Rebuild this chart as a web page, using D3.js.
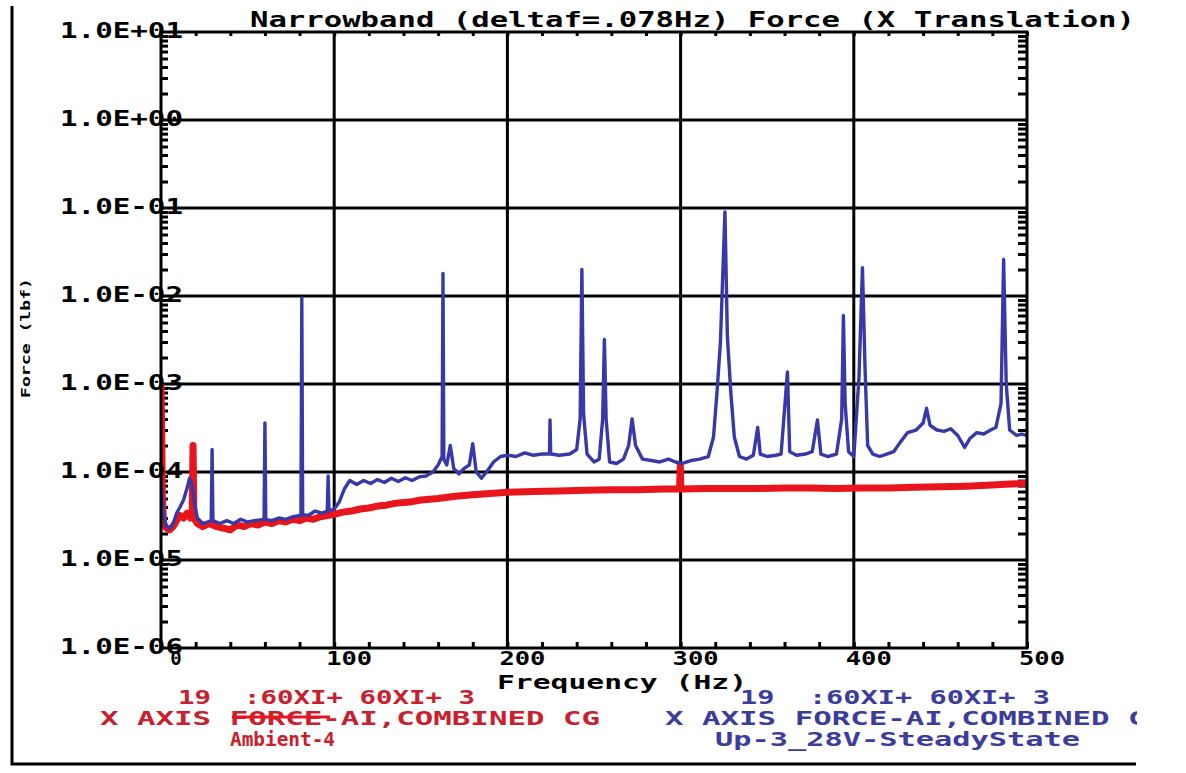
<!DOCTYPE html>
<html><head><meta charset="utf-8">
<script src="https://cdn.jsdelivr.net/npm/d3@7"></script>
<style>body{margin:0;background:#fff}svg{display:block}</style>
</head><body><svg id="c" width="1186" height="773"></svg>
<script>
const titleText = "Narrowband (deltaf=.078Hz) Force (X Translation)";
const yAxisTitle = "Force (lbf)";
const xAxisTitle = "Frequency (Hz)";
const yTickValues = [1e1, 1e0, 1e-1, 1e-2, 1e-3, 1e-4, 1e-5, 1e-6];
const yTickLabels = ["1.0E+01", "1.0E+00", "1.0E-01", "1.0E-02", "1.0E-03", "1.0E-04", "1.0E-05", "1.0E-06"];
const xTickValues = [0, 100, 200, 300, 400, 500];
const xTickLabels = ["0", "100", "200", "300", "400", "500"];

const redFreq = [0,0.4,0.8,1.5,3,5,7,9,11,13,15,17,18,18.5,19,21,24,28,32,36,40,44,48,52,56,60,64,68,72,76,80,84,88,92,96,100,105,110,115,120,125,130,135,140,145,150,160,170,180,190,200,215,230,245,260,275,290,299.4,299.8,300.2,315,330,345,360,375,390,405,420,435,450,465,480,490,500];
const redValues = [1.0e-3,3.0e-4,5e-5,2.6e-5,2.3e-5,2.2e-5,2.4e-5,2.8e-5,3.2e-5,3.0e-5,3.4e-5,3.0e-5,3.4e-5,2.0e-4,3.0e-5,2.6e-5,2.4e-5,2.6e-5,2.4e-5,2.3e-5,2.2e-5,2.5e-5,2.4e-5,2.6e-5,2.5e-5,2.7e-5,2.6e-5,2.8e-5,2.7e-5,2.9e-5,2.8e-5,3.0e-5,2.9e-5,3.1e-5,3.2e-5,3.3e-5,3.5e-5,3.6e-5,3.8e-5,3.9e-5,4.1e-5,4.2e-5,4.4e-5,4.5e-5,4.6e-5,4.8e-5,5.0e-5,5.3e-5,5.5e-5,5.7e-5,5.9e-5,6.0e-5,6.1e-5,6.2e-5,6.3e-5,6.3e-5,6.4e-5,6.4e-5,1.2e-4,6.4e-5,6.5e-5,6.5e-5,6.5e-5,6.6e-5,6.6e-5,6.5e-5,6.6e-5,6.6e-5,6.7e-5,6.8e-5,6.9e-5,7.1e-5,7.3e-5,7.4e-5];

const blueFreq = [0,0.6,1.5,3,5,7,9,11,13,15,16.5,18,19.5,21,24,27,29,29.5,30,34,38,42,46,50,54,59.5,60,60.5,64,68,72,76,80.8,81.3,81.8,85,89,93,96,96.5,97,100,103,106,109,113,117,121,125,129,133,137,141,145,149,153,157,160,162.3,162.8,163.3,165,167,169,172,175,178,180,182,185,188,192,196,200,205,210,215,220,224.3,224.6,225,230,236,240,242,243,244,246,250,253,255,256,257,259,263,267,270,272,274,278,283,288,293,297,301,306,311,316,319,321,323,325.6,327,329,331,334,338,342,344.5,346,350,355,358,361.7,363,367,372,376,379,381,385,390,393,394,395,397,400,403,405,406.5,408,411,415,419,423,427,431,436,440,442,444,448,452,456,460,464,467,471,475,479,482,485,486.5,488,490,494,497,500];
const blueValues = [9.0e-5,6.0e-5,3.2e-5,2.4e-5,2.3e-5,2.6e-5,3.4e-5,4.0e-5,4.8e-5,6.5e-5,8.5e-5,7.0e-5,4.2e-5,3.0e-5,2.6e-5,2.7e-5,2.8e-5,1.8e-4,2.8e-5,2.6e-5,2.8e-5,2.6e-5,2.9e-5,2.7e-5,2.8e-5,2.9e-5,3.6e-4,2.9e-5,2.8e-5,3.0e-5,2.9e-5,3.1e-5,3.2e-5,9.5e-3,3.3e-5,3.2e-5,3.6e-5,3.4e-5,3.6e-5,9.0e-5,3.6e-5,3.8e-5,4.6e-5,6.5e-5,8.0e-5,7.2e-5,8.0e-5,7.4e-5,8.2e-5,7.6e-5,8.5e-5,7.8e-5,8.6e-5,8.0e-5,8.8e-5,9.0e-5,1.0e-4,1.2e-4,1.5e-4,1.8e-2,1.4e-4,1.2e-4,2.0e-4,1.1e-4,9.5e-5,1.1e-4,1.2e-4,2.1e-4,1.0e-4,8.5e-5,1.0e-4,1.3e-4,1.5e-4,1.55e-4,1.5e-4,1.65e-4,1.55e-4,1.6e-4,1.6e-4,3.9e-4,1.6e-4,1.55e-4,1.6e-4,1.8e-4,4.0e-4,2.0e-2,4.5e-4,1.6e-4,1.3e-4,1.4e-4,4.0e-4,3.2e-3,4.0e-4,1.3e-4,1.25e-4,1.4e-4,2.0e-4,4.0e-4,2.0e-4,1.4e-4,1.35e-4,1.3e-4,1.4e-4,1.3e-4,1.25e-4,1.35e-4,1.4e-4,1.5e-4,2.5e-4,8.0e-4,3.0e-3,9.0e-2,3.5e-3,8.0e-4,2.5e-4,1.5e-4,1.4e-4,1.55e-4,3.2e-4,1.6e-4,1.5e-4,1.55e-4,1.6e-4,1.37e-3,1.7e-4,1.55e-4,1.6e-4,1.7e-4,3.9e-4,1.6e-4,1.5e-4,1.6e-4,4.0e-4,6.0e-3,6.0e-4,1.7e-4,1.5e-4,1.2e-3,2.1e-2,1.5e-3,2.0e-4,1.6e-4,1.5e-4,1.6e-4,1.7e-4,2.2e-4,2.8e-4,3.0e-4,3.6e-4,5.3e-4,3.4e-4,3.0e-4,2.9e-4,3.1e-4,2.6e-4,1.9e-4,2.4e-4,2.8e-4,2.7e-4,3.0e-4,3.2e-4,6.0e-4,2.6e-2,1.0e-3,3.0e-4,2.6e-4,2.7e-4,2.6e-4];

const redLegend = ["19  :60XI+ 60XI+ 3", "X AXIS FORCE-AI,COMBINED CG", "Ambient-4"];
const blueLegend = ["19  :60XI+ 60XI+ 3", "X AXIS FORCE-AI,COMBINED CG", "Up-3_28V-SteadyState"];

const svg = d3.select("#c");
const FONT = "'DejaVu Sans Mono', monospace";
const L = 161, R = 1027, T = 32, B = 648;
const x = d3.scaleLinear().domain([0, 500]).range([L, R]);
const y = d3.scaleLog().domain([1e-6, 1e1]).range([B, T]);

svg.append("rect").attr("width", 1186).attr("height", 773).attr("fill", "#fff");

// outer frame (left + bottom)
svg.append("path").attr("d", "M12,6 V764 H1136").attr("fill", "none").attr("stroke", "#000").attr("stroke-width", 3);

// grid
const g = svg.append("g");
g.selectAll(".vg").data(xTickValues.slice(1, -1)).join("line")
  .attr("x1", d => x(d)).attr("x2", d => x(d)).attr("y1", T).attr("y2", B)
  .attr("stroke", "#000").attr("stroke-width", 3);
g.selectAll(".hg").data(yTickValues.slice(1, -1)).join("line")
  .attr("x1", L).attr("x2", R).attr("y1", d => y(d)).attr("y2", d => y(d))
  .attr("stroke", "#000").attr("stroke-width", 3);

// minor ticks via axes
const minorY = y.ticks().filter(v => !yTickValues.includes(v));
const xMinor = d3.range(0, 501, 20);
function styleAxis(sel) {
  sel.select(".domain").remove();
  sel.selectAll("text").remove();
  sel.selectAll("line").attr("stroke", "#000").attr("stroke-width", 3);
}
svg.append("g").attr("transform", `translate(${L},0)`).call(d3.axisRight(y).tickValues(minorY).tickSize(7)).call(styleAxis);
svg.append("g").attr("transform", `translate(${R},0)`).call(d3.axisLeft(y).tickValues(minorY).tickSize(9)).call(styleAxis);
svg.append("g").attr("transform", `translate(0,${B})`).call(d3.axisTop(x).tickValues(xMinor).tickSize(6)).call(styleAxis);
svg.append("g").attr("transform", `translate(0,${T})`).call(d3.axisBottom(x).tickValues(xMinor).tickSize(4)).call(styleAxis);

// data
const line = d3.line().x(d => x(d[0])).y(d => y(d[1]));
svg.append("clipPath").attr("id", "pc").append("rect")
  .attr("x", L).attr("y", T).attr("width", R - L).attr("height", B - T);
const dg = svg.append("g").attr("clip-path", "url(#pc)");
dg.append("path").datum(d3.zip(redFreq, redValues)).attr("d", line)
  .attr("fill", "none").attr("stroke", "#e8161c").attr("stroke-width", 7).attr("stroke-linejoin", "round");
dg.append("path").datum(d3.zip(blueFreq, blueValues)).attr("d", line)
  .attr("fill", "none").attr("stroke", "#3838a8").attr("stroke-width", 3.4).attr("stroke-linejoin", "round");

// plot frame
svg.append("rect").attr("x", L).attr("y", T).attr("width", R - L).attr("height", B - T)
  .attr("fill", "none").attr("stroke", "#000").attr("stroke-width", 3);

// y tick labels
svg.selectAll(".yl").data(yTickValues).join("text")
  .attr("x", 60).attr("y", d => y(d) + 6)
  .attr("textLength", 123).attr("lengthAdjust", "spacingAndGlyphs")
  .attr("font-family", FONT).attr("font-weight", "bold").attr("font-size", 21).attr("fill", "#000")
  .text((d, i) => yTickLabels[i]);

// x tick labels
svg.selectAll(".xl").data(xTickValues).join("text")
  .attr("x", d => x(d) + 15).attr("y", 665).attr("text-anchor", "middle")
  .attr("font-family", FONT).attr("font-weight", "bold").attr("font-size", 19).attr("fill", "#000")
  .each(function (d, i) {
    const s = d3.select(this).text(xTickLabels[i]);
    if (xTickLabels[i].length === 3) s.attr("textLength", 46).attr("lengthAdjust", "spacingAndGlyphs");
  });

// axis titles
svg.append("text").attr("x", 497).attr("y", 689).attr("textLength", 250).attr("lengthAdjust", "spacingAndGlyphs")
  .attr("font-family", FONT).attr("font-weight", "bold").attr("font-size", 19).attr("fill", "#000").text(xAxisTitle);
svg.append("text").attr("transform", "translate(30,338) rotate(-90)").attr("text-anchor", "middle")
  .attr("textLength", 120).attr("lengthAdjust", "spacingAndGlyphs")
  .attr("font-family", FONT).attr("font-weight", "bold").attr("font-size", 12).attr("fill", "#000").text(yAxisTitle);

// title
svg.append("text").attr("x", 250).attr("y", 27).attr("textLength", 885).attr("lengthAdjust", "spacingAndGlyphs")
  .attr("font-family", FONT).attr("font-weight", "bold").attr("font-size", 21).attr("fill", "#000").text(titleText);

// legend
const lg = svg.append("g");
svg.append("clipPath").attr("id", "lc").append("rect").attr("x", 0).attr("y", 660).attr("width", 1137).attr("height", 100);
const legendRows = [
  { t: redLegend[0], x: 178, y: 704, w: 297, c: "#c8202c" },
  { t: redLegend[1], x: 100, y: 725, w: 500, c: "#c8202c" },
  { t: redLegend[2], x: 230, y: 746, w: 105, c: "#c8202c" },
  { t: blueLegend[0], x: 740, y: 704, w: 310, c: "#3c3c9c" },
  { t: blueLegend[1], x: 665, y: 725, w: 500, c: "#3c3c9c" },
  { t: blueLegend[2], x: 715, y: 746, w: 365, c: "#3c3c9c" }
];
lg.attr("clip-path", "url(#lc)").selectAll("text").data(legendRows).join("text")
  .attr("x", d => d.x).attr("y", d => d.y).attr("textLength", d => d.w).attr("lengthAdjust", "spacingAndGlyphs")
  .attr("font-family", FONT).attr("font-weight", "bold").attr("font-size", 19).attr("fill", d => d.c)
  .style("white-space", "pre").text(d => d.t);
lg.append("line").attr("x1", 232).attr("x2", 330).attr("y1", 717).attr("y2", 717).attr("stroke", "#e8161c").attr("stroke-width", 3);
</script></body></html>
